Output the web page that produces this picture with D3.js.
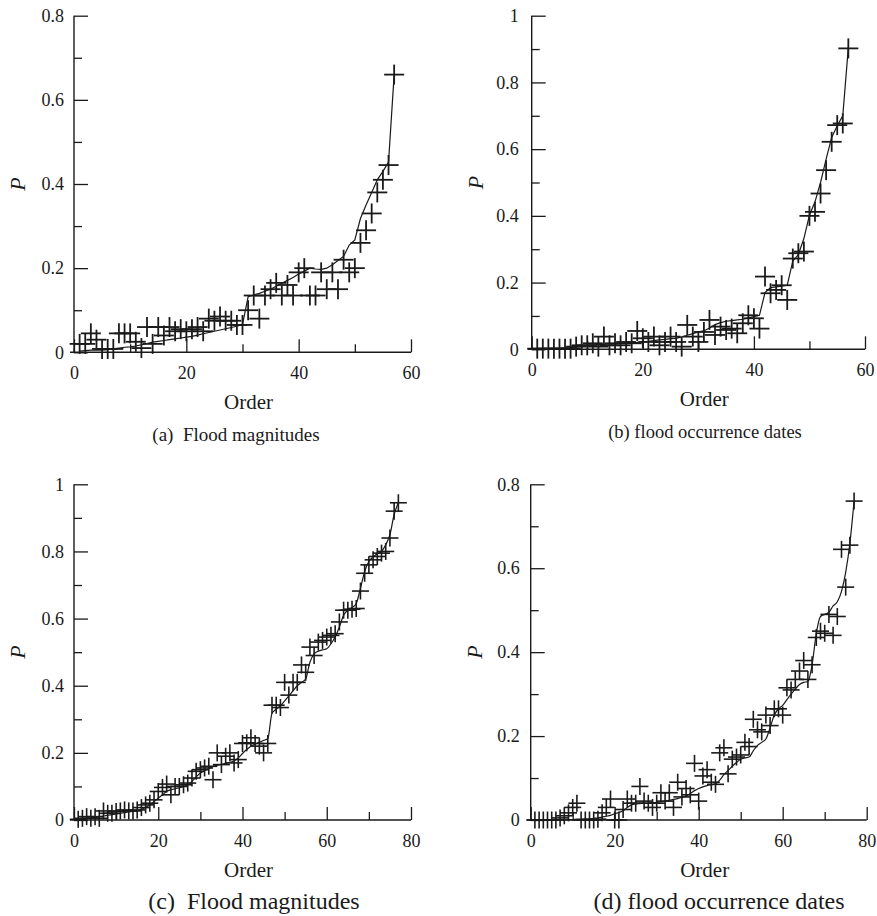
<!DOCTYPE html>
<html>
<head>
<meta charset="utf-8">
<script src="https://cdn.jsdelivr.net/npm/d3@7"></script>
<style>
  html, body { margin: 0; padding: 0; background: #fff; }
  svg text { font-family: "Liberation Serif", "Times New Roman", serif !important; fill: #1a1a1a; white-space: pre; }
</style>
</head>
<body>
<div id="chart"></div>
<script>
// order numbers (x) for the two rows
var ordersTop = d3.range(1, 58);
var ordersBottom = d3.range(1, 78);

// (a) flood magnitudes, 57 floods
var pointsA = [0.02, 0.02, 0.045, 0.03, 0.008, 0.008, 0.008, 0.045, 0.045, 0.045,
    0.025, 0.01, 0.06, 0.02, 0.06, 0.04, 0.06, 0.05, 0.055, 0.05,
    0.055, 0.06, 0.05, 0.08, 0.075, 0.085, 0.075, 0.075, 0.065, 0.065,
    0.1, 0.135, 0.08, 0.135, 0.15, 0.165, 0.135, 0.16, 0.135, 0.19,
    0.2, 0.135, 0.135, 0.19, 0.15, 0.19, 0.15, 0.22, 0.19, 0.2,
    0.26, 0.29, 0.33, 0.38, 0.41, 0.445, 0.66];
var lineA = [0.003, 0.004, 0.005, 0.005, 0.005, 0.006, 0.008, 0.01, 0.012, 0.013,
    0.015, 0.018, 0.021, 0.024, 0.026, 0.028, 0.03, 0.032, 0.034, 0.036,
    0.038, 0.041, 0.044, 0.047, 0.05, 0.053, 0.056, 0.059, 0.062, 0.066,
    0.132, 0.136, 0.14, 0.145, 0.15, 0.157, 0.164, 0.171, 0.178, 0.186,
    0.193, 0.2, 0.198, 0.197, 0.2, 0.208, 0.218, 0.228, 0.255, 0.267,
    0.318, 0.35, 0.38, 0.41, 0.43, 0.452, 0.66];

// (b) flood occurrence dates, 57 floods
var pointsB = [0.002, 0.002, 0.002, 0.002, 0.002, 0.002, 0.002, 0.008, 0.012, 0.012,
    0.018, 0.008, 0.038, 0.012, 0.018, 0.012, 0.022, 0.018, 0.055, 0.033,
    0.022, 0.038, 0.012, 0.022, 0.038, 0.022, 0.008, 0.073, 0.038, 0.022,
    0.052, 0.088, 0.043, 0.068, 0.058, 0.062, 0.048, 0.078, 0.102, 0.093,
    0.062, 0.218, 0.168, 0.178, 0.192, 0.148, 0.272, 0.288, 0.293, 0.4,
    0.412, 0.467, 0.537, 0.622, 0.672, 0.677, 0.902];
var lineB = [0.002, 0.002, 0.002, 0.002, 0.003, 0.004, 0.005, 0.007, 0.009, 0.011,
    0.013, 0.014, 0.015, 0.016, 0.017, 0.018, 0.019, 0.02, 0.021, 0.023,
    0.024, 0.026, 0.028, 0.03, 0.032, 0.033, 0.037, 0.042, 0.047, 0.052,
    0.055, 0.064, 0.074, 0.08, 0.084, 0.086, 0.088, 0.09, 0.094, 0.098,
    0.102, 0.17, 0.185, 0.187, 0.189, 0.192, 0.264, 0.284, 0.332, 0.402,
    0.442, 0.5, 0.57, 0.635, 0.67, 0.7, 0.905];

// (c) flood magnitudes, 77 floods
var pointsC = [0.002, 0.005, 0.01, 0.005, 0.01, 0.005, 0.027, 0.02, 0.02, 0.025,
    0.027, 0.03, 0.027, 0.027, 0.03, 0.037, 0.045, 0.05, 0.06, 0.085,
    0.097, 0.107, 0.075, 0.1, 0.1, 0.105, 0.11, 0.125, 0.145, 0.15,
    0.155, 0.16, 0.12, 0.2, 0.165, 0.19, 0.2, 0.17, 0.18, 0.228,
    0.23, 0.245, 0.228, 0.22, 0.2, 0.228, 0.342, 0.342, 0.335, 0.41,
    0.372, 0.41, 0.41, 0.462, 0.44, 0.515, 0.49, 0.53, 0.535, 0.545,
    0.55, 0.555, 0.59, 0.625, 0.625, 0.628, 0.63, 0.682, 0.735, 0.76,
    0.775, 0.785, 0.795, 0.8, 0.84, 0.92, 0.945];
var lineC = [0.001, 0.002, 0.004, 0.006, 0.008, 0.01, 0.012, 0.014, 0.016, 0.018,
    0.02, 0.022, 0.024, 0.026, 0.028, 0.031, 0.038, 0.045, 0.055, 0.065,
    0.075, 0.085, 0.09, 0.093, 0.096, 0.099, 0.105, 0.115, 0.128, 0.14,
    0.147, 0.153, 0.16, 0.163, 0.166, 0.169, 0.172, 0.176, 0.185, 0.198,
    0.21, 0.22, 0.226, 0.232, 0.237, 0.242, 0.318, 0.33, 0.34, 0.355,
    0.37, 0.385, 0.4, 0.41, 0.42, 0.47, 0.495, 0.503, 0.507, 0.51,
    0.525, 0.545, 0.575, 0.61, 0.625, 0.633, 0.645, 0.69, 0.74, 0.77,
    0.783, 0.793, 0.8, 0.82, 0.85, 0.91, 0.945];

// (d) flood occurrence dates, 77 floods
var pointsD = [0, 0, 0, 0, 0, 0, 0.005, 0.01, 0.017, 0.03,
    0.04, 0, 0, 0, 0, 0.002, 0.017, 0.03, 0.05, 0,
    0, 0.025, 0.05, 0.04, 0.04, 0.08, 0.045, 0.04, 0.03, 0.04,
    0.065, 0.045, 0.065, 0.03, 0.09, 0.055, 0.075, 0.06, 0.135, 0.045,
    0.105, 0.12, 0.09, 0.085, 0.16, 0.172, 0.11, 0.145, 0.15, 0.155,
    0.185, 0.175, 0.24, 0.215, 0.21, 0.25, 0.225, 0.265, 0.265, 0.25,
    0.315, 0.31, 0.335, 0.355, 0.38, 0.335, 0.37, 0.435, 0.45, 0.445,
    0.49, 0.44, 0.485, 0.645, 0.555, 0.655, 0.76];
var lineD = [0, 0, 0, 0, 0, 0, 0, 0, 0.001, 0.001,
    0.002, 0.002, 0.003, 0.003, 0.004, 0.005, 0.007, 0.009, 0.011, 0.015,
    0.018, 0.022, 0.03, 0.036, 0.038, 0.039, 0.04, 0.04, 0.041, 0.042,
    0.043, 0.045, 0.047, 0.049, 0.051, 0.054, 0.057, 0.063, 0.07, 0.075,
    0.079, 0.082, 0.084, 0.086, 0.095, 0.108, 0.118, 0.128, 0.137, 0.145,
    0.148, 0.15, 0.165, 0.178, 0.185, 0.193, 0.22, 0.25, 0.265, 0.273,
    0.287, 0.3, 0.312, 0.323, 0.328, 0.33, 0.37, 0.445, 0.485, 0.49,
    0.495, 0.51, 0.52, 0.545, 0.59, 0.66, 0.76];

// tick values
var xMajor60 = [0, 20, 40, 60], xMinor60 = [10, 30, 50];
var xMajor80 = [0, 20, 40, 60, 80], xMinor80 = [10, 30, 50, 70];
var yMajor08 = [0, 0.2, 0.4, 0.6, 0.8], yMinor08 = [0.1, 0.3, 0.5, 0.7];
var yMajor1 = [0, 0.2, 0.4, 0.6, 0.8, 1], yMinor1 = [0.1, 0.3, 0.5, 0.7, 0.9];

var captions = ['(a)  Flood magnitudes', '(b) flood occurrence dates',
    '(c)  Flood magnitudes', '(d) flood occurrence dates'];

var W = 877, H = 916, ink = '#1a1a1a', serif = '"Liberation Serif", "Times New Roman", serif';

var svg = d3.select('#chart').append('svg')
    .attr('width', W).attr('height', H);

function fmt(d) { return String(d); }

function drawPanel(p) {
    var x = d3.scaleLinear().domain([0, p.xMax]).range([p.left, p.right]);
    var y = d3.scaleLinear().domain([0, p.yMax]).range([p.bottom, p.top]);
    var g = svg.append('g');

    // minor ticks (no labels)
    g.append('g').attr('transform', 'translate(0,' + p.bottom + ')')
        .call(d3.axisBottom(x).tickValues(p.xMinor).tickSizeInner(-8).tickSizeOuter(0).tickFormat(''))
        .call(function(s) { s.select('.domain').remove(); });
    g.append('g').attr('transform', 'translate(' + p.left + ',0)')
        .call(d3.axisLeft(y).tickValues(p.yMinor).tickSizeInner(-8).tickSizeOuter(0).tickFormat(''))
        .call(function(s) { s.select('.domain').remove(); });

    // major ticks with labels
    var xa = g.append('g').attr('transform', 'translate(0,' + p.bottom + ')')
        .call(d3.axisBottom(x).tickValues(p.xMajor).tickSizeInner(-13).tickSizeOuter(0).tickPadding(14));
    xa.select('.domain').remove();
    var ya = g.append('g').attr('transform', 'translate(' + p.left + ',0)')
        .call(d3.axisLeft(y).tickValues(p.yMajor).tickSizeInner(-14).tickSizeOuter(0)
            .tickPadding(p.labelGap).tickFormat(fmt));
    ya.select('.domain').remove();

    g.selectAll('g').attr('font-family', serif).attr('font-size', 18);
    g.selectAll('.tick line').attr('stroke', ink).attr('stroke-width', 1.3);
    g.selectAll('.tick text').attr('font-size', 18).attr('fill', ink)
        .attr('font-family', serif);

    // axis lines
    g.append('line').attr('x1', p.left - 4).attr('x2', p.right)
        .attr('y1', p.bottom).attr('y2', p.bottom)
        .attr('stroke', ink).attr('stroke-width', 1.4);
    g.append('line').attr('x1', p.left).attr('x2', p.left)
        .attr('y1', p.top).attr('y2', p.bottom)
        .attr('stroke', ink).attr('stroke-width', 1.4);

    // fitted line
    var line = d3.line()
        .x(function(d, i) { return x(p.orders[i]); })
        .y(function(d) { return y(d); })
        .curve(p.curve);
    g.append('path').datum(p.line)
        .attr('d', line)
        .attr('fill', 'none').attr('stroke', ink).attr('stroke-width', 1.2);

    // observed points as "+"
    var h = p.cross;
    var pts = g.append('g').selectAll('g').data(p.points).enter().append('g')
        .attr('transform', function(d, i) { return 'translate(' + x(p.orders[i]) + ',' + y(d) + ')'; });
    pts.append('line').attr('x1', -h).attr('x2', h).attr('y1', 0).attr('y2', 0);
    pts.append('line').attr('x1', 0).attr('x2', 0).attr('y1', -h).attr('y2', h);
    pts.selectAll('line').attr('stroke', ink).attr('stroke-width', p.crossWidth);

    // axis titles
    var cx = (p.left + p.right) / 2 + 6;
    g.append('text').attr('x', cx).attr('y', p.bottom + 57)
        .attr('text-anchor', 'middle').attr('font-size', 21).text('Order');
    g.append('text')
        .attr('transform', 'translate(' + (p.left - 49) + ',' + (p.top + p.bottom) / 2 + ') rotate(-90)')
        .attr('text-anchor', 'middle').attr('font-size', 22)
        .attr('font-style', 'italic').text('P');
    g.append('text').attr('x', p.capX).attr('y', p.bottom + 89)
        .attr('text-anchor', 'middle').attr('font-size', p.capSize).text(p.caption);
}

drawPanel({ left: 74, right: 411, top: 15.7, bottom: 352.3, xMax: 60, yMax: 0.8,
    xMajor: xMajor60, xMinor: xMinor60, yMajor: yMajor08, yMinor: yMinor08,
    orders: ordersTop, points: pointsA, line: lineA, curve: d3.curveLinear,
    cross: 10, crossWidth: 1.8, labelGap: 10, caption: captions[0], capX: 236, capSize: 19 });
drawPanel({ left: 531.7, right: 865, top: 15.7, bottom: 349.3, xMax: 60, yMax: 1,
    xMajor: xMajor60, xMinor: xMinor60, yMajor: yMajor1, yMinor: yMinor1,
    orders: ordersTop, points: pointsB, line: lineB, curve: d3.curveLinear,
    cross: 10, crossWidth: 1.8, labelGap: 13, caption: captions[1], capX: 705, capSize: 18.5 });
drawPanel({ left: 74, right: 411, top: 484.3, bottom: 820, xMax: 80, yMax: 1,
    xMajor: xMajor80, xMinor: xMinor80, yMajor: yMajor1, yMinor: yMinor1,
    orders: ordersBottom, points: pointsC, line: lineC, curve: d3.curveMonotoneX,
    cross: 8.5, crossWidth: 1.6, labelGap: 10, caption: captions[2], capX: 254, capSize: 24 });
drawPanel({ left: 530.7, right: 866.7, top: 484.3, bottom: 820, xMax: 80, yMax: 0.8,
    xMajor: xMajor80, xMinor: xMinor80, yMajor: yMajor08, yMinor: yMinor08,
    orders: ordersBottom, points: pointsD, line: lineD, curve: d3.curveMonotoneX,
    cross: 8.5, crossWidth: 1.6, labelGap: 11, caption: captions[3], capX: 719, capSize: 24 });
</script>
</body>
</html>
